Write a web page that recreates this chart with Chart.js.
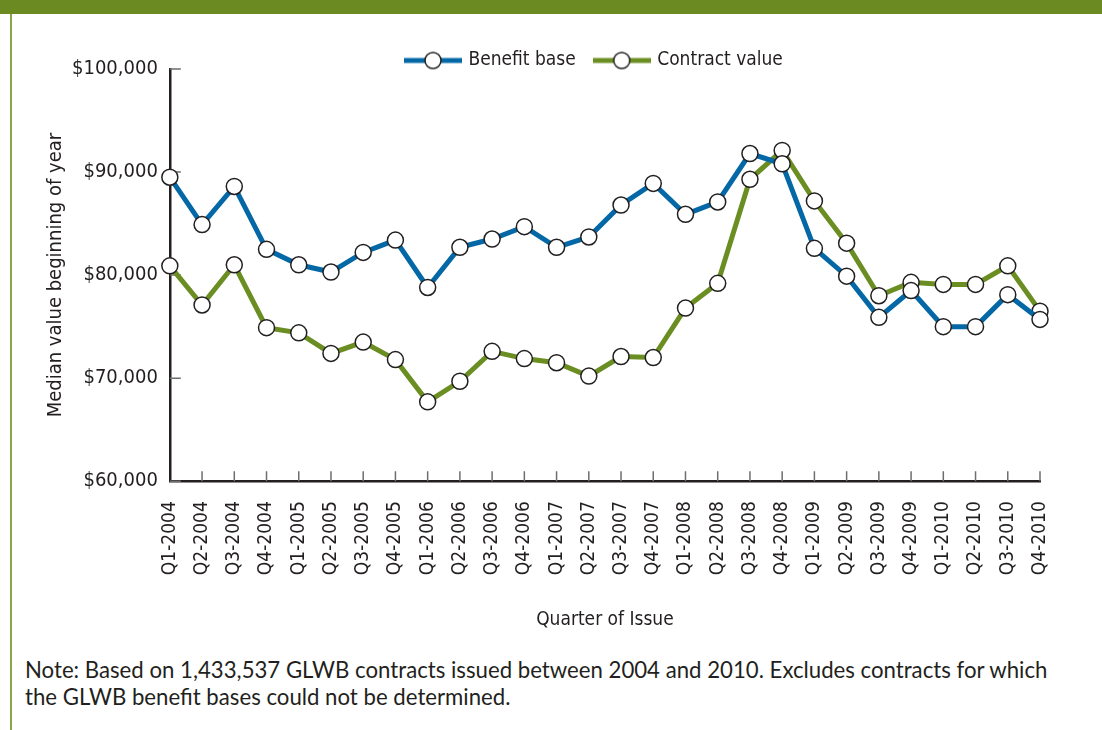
<!DOCTYPE html>
<html>
<head>
<meta charset="utf-8">
<script src="https://cdn.jsdelivr.net/npm/chart.js@4/dist/chart.umd.min.js"></script>
<style>
  html, body { margin: 0; padding: 0; background: #fff; overflow: hidden; }
  body { width: 1102px; height: 730px; position: relative; }
  .band { position: absolute; left: 0; top: 0; width: 1102px; height: 14px; background: #6b8a22; }
  .edge { position: absolute; left: 10px; top: 14px; width: 2px; height: 716px; background: #8aa64a; }
  .wrap { position: absolute; left: 12px; top: 14px; width: 1090px; height: 626px; }
  .note { position: absolute; left: 25px; top: 656px; width: 1075px; font-family: Lato, "Noto Sans", sans-serif;
          font-size: 22.2px; line-height: 27px; color: #231f20; white-space: nowrap; }
</style>
</head>
<body>
<div class="band"></div>
<div class="edge"></div>
<div class="wrap"><canvas id="glwbChart" width="1090" height="626"></canvas></div>
<div class="note">Note: Based on 1,433,537 GLWB contracts issued between 2004 and 2010. Excludes contracts for which<br>the GLWB benefit bases could not be determined.</div>
<script>
const quarters = ['Q1-2004','Q2-2004','Q3-2004','Q4-2004','Q1-2005','Q2-2005','Q3-2005','Q4-2005',
  'Q1-2006','Q2-2006','Q3-2006','Q4-2006','Q1-2007','Q2-2007','Q3-2007','Q4-2007',
  'Q1-2008','Q2-2008','Q3-2008','Q4-2008','Q1-2009','Q2-2009','Q3-2009','Q4-2009',
  'Q1-2010','Q2-2010','Q3-2010','Q4-2010'];
const benefitBase = [89500, 84900, 88600, 82500, 81000, 80300, 82200, 83400, 78800, 82700, 83500, 84700,
  82700, 83700, 86800, 88900, 85900, 87100, 91800, 90800, 82600, 79900, 75900, 78500, 75000, 75000, 78100, 75700];
const contractValue = [80900, 77100, 81000, 74900, 74400, 72400, 73500, 71800, 67700, 69700, 72600, 71900,
  71500, 70200, 72100, 72000, 76800, 79200, 89300, 92100, 87200, 83100, 78000, 79300, 79100, 79100, 80900, 76500];
const yTicks = [60000, 70000, 80000, 90000, 100000];

const blue = '#0568a6';
const green = '#6b8e23';
const ink = '#231f20';
const narrow = '"Liberation Sans Narrow", "DejaVu Sans Condensed", sans-serif';

// legend swatch: line with an open circle in the middle
function swatch(color) {
  const c = document.createElement('canvas');
  c.width = 58; c.height = 20;
  const g = c.getContext('2d');
  g.strokeStyle = color; g.lineWidth = 5;
  g.beginPath(); g.moveTo(0, 10); g.lineTo(58, 10); g.stroke();
  g.beginPath(); g.arc(29, 10, 8, 0, Math.PI * 2);
  g.fillStyle = '#fff'; g.fill();
  g.strokeStyle = ink; g.lineWidth = 1.5; g.stroke();
  return c;
}
const swatches = [swatch(blue), swatch(green)];

// ticks drawn inward from the axes
const innerTicks = {
  id: 'innerTicks',
  beforeDatasetsDraw(chart) {
    const {ctx, chartArea, scales: {x, y}} = chart;
    ctx.save();
    ctx.strokeStyle = '#6d6e71';
    ctx.lineWidth = 1.5;
    ctx.beginPath();
    y.ticks.forEach((t, i) => {
      const py = y.getPixelForTick(i);
      ctx.moveTo(chartArea.left, py); ctx.lineTo(chartArea.left + 11, py);
    });
    x.ticks.forEach((t, i) => {
      if (i === 0) return;
      const px = x.getPixelForTick(i);
      ctx.moveTo(px, chartArea.bottom); ctx.lineTo(px, chartArea.bottom - 10);
    });
    ctx.stroke();
    ctx.restore();
  }
};

// tighter space under the legend, drawn unclipped and nudged left a bit
const legendGap = {
  id: 'legendGap',
  beforeInit(chart) {
    const lg = chart.legend;
    const fit = lg.fit;
    lg.fit = function () {
      fit.call(this);
      this.height -= 11;
    };
    lg.draw = function () {
      if (!this.options.display) return;
      this.ctx.save();
      this.ctx.translate(-10, 0);
      this._draw();
      this.ctx.restore();
    };
  }
};

const ctx = document.getElementById('glwbChart');
new Chart(ctx, {
  type: 'line',
  data: {
    labels: quarters,
    datasets: [{
      label: 'Benefit base',
      data: benefitBase,
      borderColor: blue,
      backgroundColor: '#fff',
      borderWidth: 5,
      pointRadius: 8,
      pointBorderColor: ink,
      pointBorderWidth: 1.5,
      pointBackgroundColor: '#fff',
      tension: 0,
      clip: false
    }, {
      label: 'Contract value',
      data: contractValue,
      borderColor: green,
      backgroundColor: '#fff',
      borderWidth: 5,
      pointRadius: 8,
      pointBorderColor: ink,
      pointBorderWidth: 1.5,
      pointBackgroundColor: '#fff',
      tension: 0,
      clip: false
    }]
  },
  options: {
    responsive: false,
    animation: false,
    devicePixelRatio: 1,
    layout: { padding: { left: 32, right: 62, top: 17, bottom: 5 } },
    plugins: {
      legend: {
        position: 'top',
        fullSize: false,
        labels: {
          usePointStyle: true,
          pointStyleWidth: 52,
          boxHeight: 20,
          padding: 20,
          color: ink,
          font: { family: narrow, size: 19 },
          generateLabels(chart) {
            const items = Chart.defaults.plugins.legend.labels.generateLabels(chart);
            items.forEach((it, i) => { it.pointStyle = swatches[i]; });
            return items;
          }
        }
      },
      tooltip: { enabled: false }
    },
    scales: {
      x: {
        grid: { display: false },
        border: { color: ink, width: 2.5 },
        ticks: {
          autoSkip: false, maxRotation: 90, minRotation: 90, padding: 12,
          color: ink, font: { family: narrow, size: 19 }
        },
        title: { display: true, text: 'Quarter of Issue', color: ink, font: { family: narrow, size: 19 }, padding: { top: 21 } }
      },
      y: {
        min: 60000, max: 100000,
        afterBuildTicks(scale) { scale.ticks = yTicks.map(v => ({ value: v })); },
        grid: { display: false },
        border: { color: ink, width: 2.5 },
        ticks: {
          padding: 4, color: ink, font: { family: narrow, size: 20 },
          callback: v => '$' + v.toLocaleString('en-US')
        },
        title: { display: true, text: 'Median value beginning of year', color: ink, font: { family: narrow, size: 20 }, padding: 0 }
      }
    }
  },
  plugins: [innerTicks, legendGap]
});
</script>
</body>
</html>
